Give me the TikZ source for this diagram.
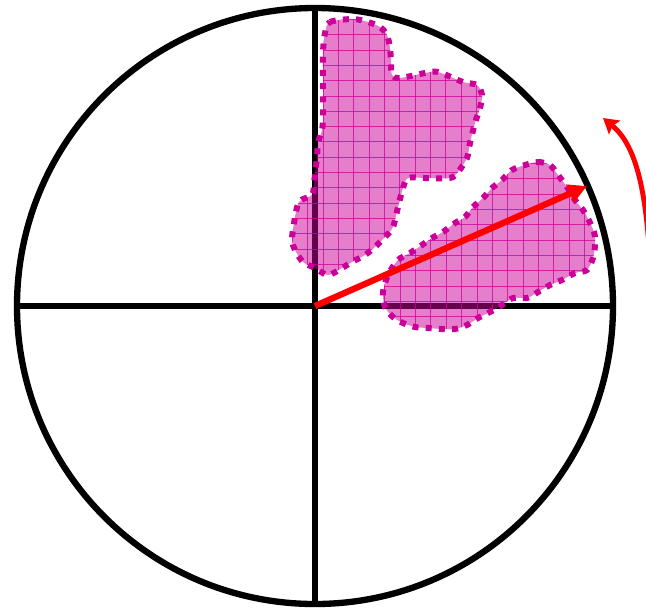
\documentclass[tikz,border=0pt]{standalone}
\usepackage{tikz}
\usetikzlibrary{arrows.meta}
\definecolor{blobmagenta}{RGB}{204,0,153}
\definecolor{vecred}{RGB}{255,0,0}

% outlines of the two regions (pixel-like units, y downwards)
\newcommand{\upperblob}{plot[smooth cycle, tension=0.5] coordinates {
    (325,33) (330,22) (353,19) (368,22) (380,27) (387,35) (390,48) (391,62)
    (392,75) (400,78) (425,73) (438,72) (463,82) (477,85) (482,95) (480,108)
    (475,123) (470,143) (467,158) (458,172) (450,178) (425,178) (408,178)
    (403,188) (398,207) (393,227) (385,237) (375,247) (365,255) (352,262)
    (342,268) (328,275) (315,268) (303,262) (295,250) (292,240) (294,223)
    (299,202) (312,195) (314,183) (317,157) (318,143) (322,130) (323,117)
    (323,93) (323,77) (323,52)}}
\newcommand{\lowerblob}{plot[smooth cycle, tension=0.5] coordinates {
    (525,165) (538,162) (550,165) (558,175) (567,187) (575,200) (585,213)
    (594,232) (595,245) (593,258) (587,270) (575,273) (562,280) (550,285)
    (538,292) (527,298) (513,298) (502,305) (490,312) (478,318) (467,325)
    (455,329) (442,329) (428,328) (415,327) (403,323) (393,317) (385,307)
    (383,292) (388,275) (398,260) (410,253) (422,245) (432,238) (443,232)
    (455,223) (465,217) (473,207) (483,198) (492,188) (502,180) (512,170)}}

\begin{document}
\begin{tikzpicture}[x=0.02cm, y=-0.02cm,
    axisline/.style={line width=3.6pt, black},
    blobfill/.style={fill=blobmagenta, fill opacity=0.5},
    blobgrid/.style={blobmagenta, line width=0.5pt, opacity=0.75},
    blobedge/.style={blobmagenta, line width=3.4pt, dash pattern=on 3.4pt off 4.1pt},
    vecarrow/.style={-{Triangle[length=10.6pt, width=10.5pt]}, line width=3.6pt, vecred},
    turnarrow/.style={-{Stealth[length=8.5pt, width=10pt, inset=1.5pt]}, line width=2.8pt, vecred}
]
    \useasboundingbox (0,0) rectangle (646,610);
    \clip (0,0) rectangle (646,610);

    \coordinate (O) at (315,306);
    \coordinate (W) at (17,306);
    \coordinate (E) at (613,306);
    \coordinate (N) at (315,8);
    \coordinate (S) at (315,604);

    % circle and axes
    \draw[axisline] (O) circle[radius=298];
    \draw[axisline] (W) -- (E) (N) -- (S);

    % the two regions
    \fill[blobfill] \upperblob;
    \fill[blobfill] \lowerblob;
    \begin{scope}
        \clip \upperblob;
        \foreach \gx in {292.25,307.6,...,500} \draw[blobgrid] (\gx,0) -- (\gx,340);
        \foreach \gy in {4.2,19.5,...,341} \draw[blobgrid] (280,\gy) -- (500,\gy);
    \end{scope}
    \begin{scope}
        \clip \lowerblob;
        \foreach \gx in {369.5,384.85,...,615} \draw[blobgrid] (\gx,150) -- (\gx,340);
        \foreach \gy in {148,163.35,...,341} \draw[blobgrid] (370,\gy) -- (615,\gy);
    \end{scope}
    \draw[blobedge] \upperblob;
    \draw[blobedge] \lowerblob;

    % vector and sense of rotation
    \coordinate (vtip) at (587,186);
    \draw[vecarrow] (O) -- (vtip);
    \coordinate (tstart) at (650,262);
    \coordinate (ttip) at (603,118);
    \draw[turnarrow] (tstart) .. controls (646,190) and (636,145) .. (ttip);
\end{tikzpicture}
\end{document}
